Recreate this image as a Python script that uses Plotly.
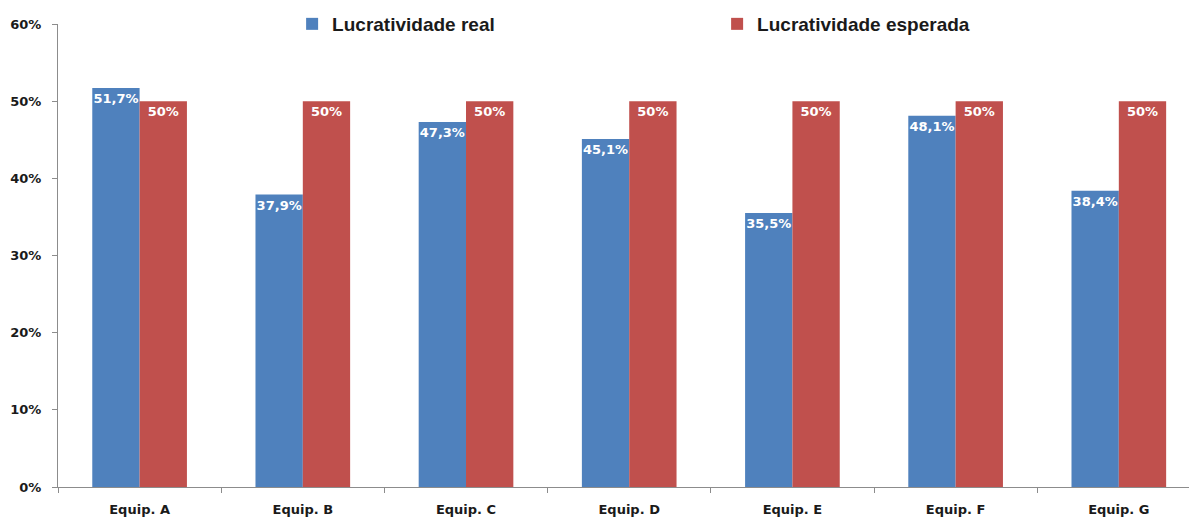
import plotly.graph_objects as go

categories = ["Equip. A", "Equip. B", "Equip. C", "Equip. D", "Equip. E", "Equip. F", "Equip. G"]
real = [51.7, 37.9, 47.3, 45.1, 35.5, 48.1, 38.4]
expected = [50, 50, 50, 50, 50, 50, 50]
y_ticks = [0, 10, 20, 30, 40, 50, 60]


def pct_label(v):
    if float(v).is_integer():
        return f"{int(v)}%"
    return f"{v:.1f}".replace(".", ",") + "%"


TICK_FONT = "DejaVu Sans"
LEGEND_FONT = "Liberation Sans"
TEXT_COLOR = "#1a1a1a"

fig = go.Figure()
fig.add_trace(go.Bar(
    name="Lucratividade real", x=categories, y=real,
    marker=dict(color="#4F81BD", line=dict(width=0)),
    text=[pct_label(v) for v in real], textposition="inside",
    insidetextanchor="end", textangle=0, constraintext="none",
    textfont=dict(family=TICK_FONT, size=13, color="white", weight="bold"),
))
fig.add_trace(go.Bar(
    name="Lucratividade esperada", x=categories, y=expected,
    marker=dict(color="#C0504D", line=dict(width=0)),
    text=[pct_label(v) for v in expected], textposition="inside",
    insidetextanchor="end", textangle=0, constraintext="none",
    textfont=dict(family=TICK_FONT, size=13, color="white", weight="bold"),
))

fig.update_layout(
    width=1189, height=518,
    margin=dict(l=58, r=0, t=24, b=31),
    paper_bgcolor="white", plot_bgcolor="white",
    barmode="group", bargap=0.42, bargroupgap=0,
    font=dict(family=TICK_FONT, color=TEXT_COLOR),
    showlegend=True,
    legend=dict(
        orientation="h", x=0.207, xanchor="left", y=1.0, yanchor="middle",
        bgcolor="rgba(0,0,0,0)", entrywidth=380, entrywidthmode="pixels",
        font=dict(family=LEGEND_FONT, size=19, color=TEXT_COLOR, weight="bold"),
        itemwidth=30,
    ),
)
fig.update_xaxes(
    range=[-0.5, 6.43], showline=True, linecolor="#8c8c8c", linewidth=1,
    ticks="outside", tickson="boundaries", ticklen=5, tickcolor="#8c8c8c",
    showgrid=False, zeroline=False, ticklabelstandoff=10,
    tickfont=dict(family=TICK_FONT, size=13, color=TEXT_COLOR, weight="bold"),
)
fig.update_yaxes(
    range=[0, 60], tickvals=y_ticks, ticktext=[f"{t}%" for t in y_ticks],
    showline=True, linecolor="#8c8c8c", linewidth=1,
    ticks="outside", ticklen=5, tickcolor="#8c8c8c",
    showgrid=False, zeroline=False, ticklabelstandoff=8,
    tickfont=dict(family=TICK_FONT, size=13, color=TEXT_COLOR, weight="bold"),
)

fig.write_html("out.html")
